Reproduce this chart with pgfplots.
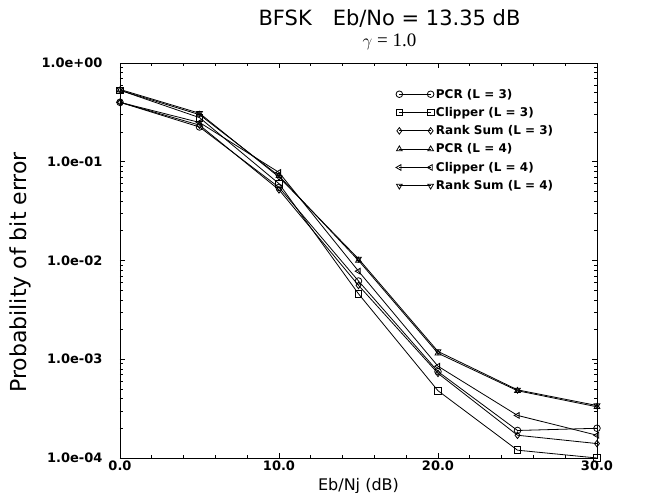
\documentclass[border=0pt]{standalone}
\usepackage{pgfplots}
\pgfplotsset{compat=1.18}
\usepackage{fontspec}
\setmainfont{DejaVu Sans}
\newfontfamily\seriffont{Liberation Serif}
\begin{document}
\begin{tikzpicture}
\path[use as bounding box] (-120pt,-35pt) rectangle (526pt,458pt);
\begin{axis}[
  at={(0pt,0pt)}, anchor=south west,
  scale only axis, width=477pt, height=395pt,
  ymode=log, xmin=0, xmax=30, ymin=1e-4, ymax=1,
  xtick={0,10,20,30}, xticklabels={0.0,10.0,20.0,30.0},
  minor x tick num=4,
  ytick={1e-4,1e-3,1e-2,1e-1,1},
  yticklabels={1.0e-04,1.0e-03,1.0e-02,1.0e-01,1.0e+00},
  tick label style={font=\fontsize{13}{15}\selectfont\bfseries},
  yticklabel style={xshift=-14pt},
  xticklabel style={yshift=1pt},
  xlabel={Eb/Nj (dB)}, ylabel={Probability of bit error},
  xlabel style={font=\fontsize{16}{18}\selectfont, yshift=-1pt},
  ylabel style={font=\fontsize{22}{24}\selectfont, at={(axis description cs:-0.18,0.47)}, anchor=south},
  title={BFSK\quad Eb/No = 13.35 dB\\[-2pt]{\seriffont\fontsize{19}{20}\selectfont$\gamma$ = 1.0}},
  title style={align=center, font=\fontsize{21}{23}\selectfont, at={(0.565,1)}, yshift=4pt},
  axis line style={line width=0.8pt},
  every tick/.style={black, line width=0.6pt},
  major tick length=5pt, minor tick length=3pt,
  legend style={draw=none, fill=none, at={(0.572,0.945)}, anchor=north west,
    font=\fontsize{12}{14}\selectfont\bfseries, row sep=3.7pt,
    cells={anchor=west}},
  legend image code/.code={\draw[mark repeat=1,mark phase=1,#1] plot coordinates {(0cm,0cm) (1.1cm,0cm)};},
  every axis plot/.append style={black, line width=0.8pt, mark size=3.3pt, mark options={solid, fill=white, line width=0.8pt}},
]
\addplot[mark=o] coordinates {(0,0.40) (5,0.225) (10,0.055) (15,0.0062) (20,0.00075) (25,0.00019) (30,0.00020)};
\addlegendentry{PCR (L = 3)}
\addplot[mark=square] coordinates {(0,0.53) (5,0.28) (10,0.060) (15,0.0046) (20,0.00048) (25,0.00012) (30,0.00010)};
\addlegendentry{Clipper (L = 3)}
\addplot[mark=diamond] coordinates {(0,0.40) (5,0.235) (10,0.052) (15,0.0056) (20,0.00072) (25,0.00017) (30,0.00014)};
\addlegendentry{Rank Sum (L = 3)}
\addplot[mark=triangle] coordinates {(0,0.53) (5,0.30) (10,0.072) (15,0.0100) (20,0.00115) (25,0.00048) (30,0.00033)};
\addlegendentry{PCR (L = 4)}
\addplot[mark=triangle, mark options={rotate=90}] coordinates {(0,0.40) (5,0.25) (10,0.078) (15,0.0078) (20,0.00085) (25,0.00027) (30,0.00017)};
\addlegendentry{Clipper (L = 4)}
\addplot[mark=triangle, mark options={rotate=180}] coordinates {(0,0.54) (5,0.31) (10,0.070) (15,0.0104) (20,0.0012) (25,0.00049) (30,0.00034)};
\addlegendentry{Rank Sum (L = 4)}
\end{axis}
\end{tikzpicture}
\end{document}
